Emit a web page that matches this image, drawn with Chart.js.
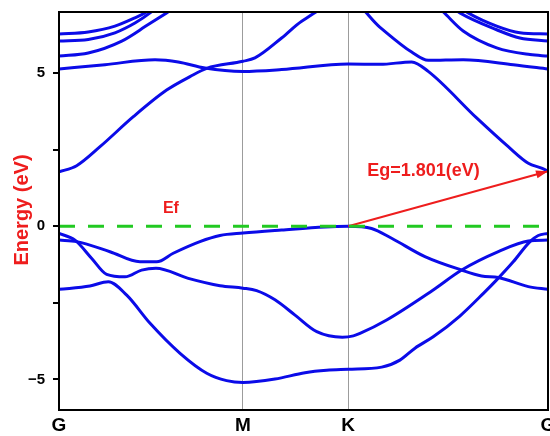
<!DOCTYPE html>
<html>
<head>
<meta charset="utf-8">
<script src="https://cdn.jsdelivr.net/npm/chart.js@4/dist/chart.umd.min.js"></script>
<style>
  body { margin: 0; background: #fff; }
  canvas { display: block; }
</style>
</head>
<body>
<canvas id="bands" width="550" height="436"></canvas>
<script>
// k-path: G - M - K - G (path length units)
const kTicks = [0, 1, 1.572, 2.658];
const kLabels = ["G", "M", "K", "G"];
const eTicks = [-5, -2.5, 0, 2.5, 5];
const eLabels = ["\u22125", "", "0", "", "5"];

const gapValue = 1.801;
const vbmPoint = [1.572, 0];
const cbmPoint = [2.658, 1.801];

// conduction bands [k, E]
const bandTop1 = [[0, 6.28], [0.159, 6.35], [0.304, 6.54], [0.413, 6.81], [0.467, 6.97], [0.522, 7.2], [1.572, 8.5], [2.168, 7.2], [2.224, 6.97], [2.379, 6.54], [2.505, 6.32], [2.658, 6.28]];
const bandTop2 = [[0, 6.05], [0.159, 6.10], [0.304, 6.32], [0.413, 6.64], [0.495, 6.97], [0.549, 7.25], [1.572, 8.5], [2.125, 7.2], [2.179, 6.97], [2.379, 6.42], [2.505, 6.15], [2.658, 6.05]];
const bandTop3 = [[0, 5.56], [0.159, 5.66], [0.341, 6.05], [0.485, 6.59], [0.585, 6.97], [0.658, 7.25], [1.572, 8.5], [2.016, 7.4], [2.089, 7.0], [2.197, 6.38], [2.379, 5.83], [2.560, 5.61], [2.658, 5.56]];
const bandC1 = [[0, 1.78], [0.096, 1.98], [0.223, 2.60], [0.404, 3.58], [0.585, 4.45], [0.712, 4.89], [0.803, 5.16], [1.0, 5.39], [1.065, 5.50], [1.210, 6.15], [1.319, 6.70], [1.572, 7.4], [1.745, 6.50], [1.917, 5.69], [2.007, 5.42], [2.197, 5.44], [2.469, 5.28], [2.658, 5.14]];
const bandC2 = [[0, 5.14], [0.25, 5.28], [0.522, 5.44], [0.648, 5.37], [0.793, 5.17], [1.0, 5.06], [1.210, 5.12], [1.572, 5.30], [1.745, 5.29], [1.917, 5.37], [2.007, 5.06], [2.270, 3.54], [2.442, 2.60], [2.551, 2.06], [2.623, 1.90], [2.658, 1.80]];

// valence bands [k, E]
const bandV1 = [[0, -0.23], [0.087, -0.45], [0.178, -1.05], [0.259, -1.57], [0.359, -1.65], [0.449, -1.43], [0.527, -1.37], [0.703, -1.70], [0.875, -1.94], [1.0, -2.02], [1.074, -2.10], [1.174, -2.40], [1.283, -2.90], [1.401, -3.44], [1.54, -3.62], [1.60, -3.58], [1.636, -3.50], [1.781, -3.06], [2.034, -2.08], [2.189, -1.43], [2.388, -0.83], [2.551, -0.48], [2.658, -0.45]];
const bandV2 = [[0, -0.45], [0.096, -0.50], [0.277, -0.83], [0.440, -1.16], [0.531, -1.16], [0.621, -0.88], [0.766, -0.50], [0.875, -0.30], [1.0, -0.22], [1.210, -0.12], [1.446, -0.02], [1.572, 0], [1.699, -0.07], [1.808, -0.39], [1.989, -0.99], [2.189, -1.43], [2.297, -1.62], [2.388, -1.67], [2.551, -1.97], [2.658, -2.06]];
const bandV3 = [[0, -2.06], [0.168, -1.95], [0.268, -1.81], [0.368, -2.25], [0.495, -3.17], [0.658, -4.15], [0.803, -4.80], [0.911, -5.04], [1.0, -5.10], [1.174, -4.99], [1.337, -4.78], [1.455, -4.70], [1.572, -4.67], [1.754, -4.60], [1.853, -4.37], [1.935, -3.98], [2.034, -3.61], [2.179, -2.93], [2.307, -2.19], [2.379, -1.75], [2.469, -1.16], [2.560, -0.50], [2.605, -0.30], [2.658, -0.23]];

const bands = [bandTop1, bandTop2, bandTop3, bandC1, bandC2, bandV1, bandV2, bandV3];

const FONT = '"Liberation Sans", Arial, sans-serif';
const BLUE = "#0b0be8";
const RED = "#ee1d1d";

const toXY = arr => arr.map(p => ({x: p[0], y: p[1]}));

const datasets = bands.map(b => ({
    data: toXY(b),
    borderColor: BLUE,
    borderWidth: 3,
    pointRadius: 0,
    cubicInterpolationMode: "monotone",
    clip: 0,
    order: 2
}));

// Fermi level
datasets.push({
    data: toXY([[kTicks[0], 0], [kTicks[kTicks.length - 1], 0]]),
    borderColor: "#22c922",
    borderWidth: 3,
    borderDash: [16, 13],
    pointRadius: 0,
    clip: 0,
    order: 0
});

// gap arrow shaft
datasets.push({
    data: toXY([vbmPoint, cbmPoint]),
    borderColor: RED,
    borderWidth: 2,
    pointRadius: 0,
    clip: false,
    order: 0
});

const overlay = {
    id: "overlay",
    afterDatasetsDraw(chart) {
        const {ctx, chartArea: a, scales: {x, y}} = chart;
        ctx.save();

        // arrow head at the CBM
        const x0 = x.getPixelForValue(vbmPoint[0]), y0 = y.getPixelForValue(vbmPoint[1]);
        const x1 = x.getPixelForValue(cbmPoint[0]), y1 = y.getPixelForValue(cbmPoint[1]);
        const ang = Math.atan2(y1 - y0, x1 - x0);
        const len = 12, half = 4;
        const bx = x1 - len * Math.cos(ang), by = y1 - len * Math.sin(ang);
        ctx.fillStyle = RED;
        ctx.beginPath();
        ctx.moveTo(x1, y1);
        ctx.lineTo(bx + half * Math.sin(ang), by - half * Math.cos(ang));
        ctx.lineTo(bx - half * Math.sin(ang), by + half * Math.cos(ang));
        ctx.closePath();
        ctx.fill();

        // labels
        ctx.fillStyle = RED;
        ctx.textAlign = "left";
        ctx.textBaseline = "alphabetic";
        ctx.font = "bold 16px " + FONT;
        ctx.fillText("Ef", x.getPixelForValue(0.565), y.getPixelForValue(0.44));
        ctx.font = "bold 18px " + FONT;
        ctx.fillText("Eg=" + gapValue.toFixed(3) + "(eV)", x.getPixelForValue(1.675), y.getPixelForValue(1.64));

        // axis title
        ctx.save();
        ctx.translate(28, 210);
        ctx.rotate(-Math.PI / 2);
        ctx.textAlign = "center";
        ctx.font = "bold 20px " + FONT;
        ctx.fillText("Energy (eV)", 0, 0);
        ctx.restore();

        // frame
        ctx.strokeStyle = "#000";
        ctx.lineWidth = 2;
        ctx.strokeRect(a.left, a.top, a.right - a.left, a.bottom - a.top);
        ctx.restore();
    }
};

new Chart(document.getElementById("bands"), {
    type: "line",
    data: {datasets},
    options: {
        responsive: false,
        animation: false,
        layout: {padding: {top: 12, right: 2, left: 0, bottom: 0}},
        plugins: {legend: {display: false}, tooltip: {enabled: false}},
        scales: {
            x: {
                type: "linear",
                min: kTicks[0],
                max: kTicks[kTicks.length - 1],
                afterBuildTicks: s => { s.ticks = kTicks.map(v => ({value: v})); },
                afterFit: s => { s.height = 26; s.paddingLeft = 0; s.paddingRight = 0; },
                ticks: {
                    autoSkip: false,
                    maxRotation: 0,
                    padding: 4,
                    color: "#000",
                    font: {family: FONT, size: 19, weight: "bold"},
                    callback: (v, i) => kLabels[i]
                },
                grid: {
                    drawTicks: false,
                    lineWidth: 1,
                    color: c => (c.index === 1 || c.index === 2) ? "#9c9c9c" : "rgba(0,0,0,0)"
                },
                border: {display: false}
            },
            y: {
                min: -6,
                max: 7,
                afterBuildTicks: s => { s.ticks = eTicks.map(v => ({value: v})); },
                afterFit: s => { s.width = 59; s.paddingTop = 0; s.paddingBottom = 0; },
                ticks: {
                    padding: 8,
                    color: "#000",
                    font: {family: FONT, size: 15, weight: "bold"},
                    callback: (v, i) => eLabels[i]
                },
                grid: {
                    drawOnChartArea: false,
                    drawTicks: true,
                    tickLength: 6,
                    lineWidth: 2,
                    color: "#000"
                },
                border: {display: false}
            }
        }
    },
    plugins: [overlay]
});
</script>
</body>
</html>
